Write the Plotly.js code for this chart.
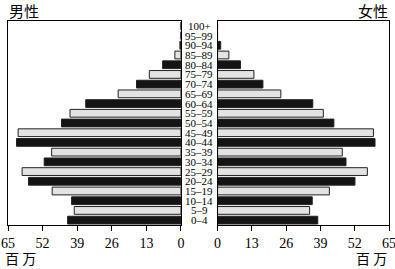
<!DOCTYPE html>
<html><head><meta charset="utf-8">
<script src="https://cdn.plot.ly/plotly-3.0.1.min.js"></script>
<style>html,body{margin:0;padding:0;background:#fff}#chart{width:395px;height:269px}</style>
</head><body><div id="chart"></div>
<script>
const ageGroups = ["0–4","5–9","10–14","15–19","20–24","25–29","30–34","35–39","40–44","45–49","50–54","55–59","60–64","65–69","70–74","75–79","80–84","85–89","90–94","95–99","100+"];
const maleValues = [42.6,40.1,41.1,48.4,57.3,59.7,51.4,48.6,61.8,61.2,44.9,41.7,35.8,23.6,16.7,11.9,6.9,2.3,0.4,0,0];
const femaleValues = [38.0,34.9,35.9,42.4,52.1,56.8,48.7,47.3,59.7,59.1,44.1,40.1,36.1,24.0,17.2,13.8,8.7,4.3,1.2,0,0];
const tickValues = [0,13,26,39,52,65];
const leftLabel = "男性", rightLabel = "女性", unitLabel = "百 万";

const fills = ageGroups.map((_, i) => i % 2 === 0 ? "#141414" : "#e3e3e3");
const serif = "Liberation Serif, Times New Roman, serif";
const cjk = "Noto Sans CJK SC, sans-serif";

const barStyle = {type: "bar", orientation: "h", width: 0.8,
  marker: {color: fills, line: {color: "#222", width: 1}}, hoverinfo: "none"};

const traces = [
  Object.assign({}, barStyle, {x: maleValues, y: ageGroups, xaxis: "x", yaxis: "y"}),
  Object.assign({}, barStyle, {x: femaleValues, y: ageGroups, xaxis: "x2", yaxis: "y2"})
];

const xCommon = {tickvals: tickValues, ticks: "outside", ticklen: 5, tickcolor: "#000",
  showline: true, linecolor: "#000", linewidth: 1, mirror: true, showgrid: false, zeroline: false,
  ticklabeloverflow: "allow",
  tickfont: {family: serif, size: 14, color: "#000"}, fixedrange: true};
const yCommon = {type: "category", categoryorder: "array", categoryarray: ageGroups,
  range: [-0.5, 20.5], showticklabels: false, ticks: "", showline: true, linecolor: "#000",
  linewidth: 1, mirror: true, showgrid: false, zeroline: false, fixedrange: true};

const annotations = ageGroups.map(g => ({text: g, x: 0.502, xref: "paper", y: g, yref: "y",
  xanchor: "center", yanchor: "middle", showarrow: false,
  font: {family: serif, size: 11, color: "#000"}}));
annotations.push(
  {text: leftLabel, x: -0.002, xref: "paper", y: 1.052, yref: "paper", xanchor: "left", yanchor: "middle", showarrow: false, font: {family: cjk, size: 15, color: "#000"}},
  {text: rightLabel, x: 1.003, xref: "paper", y: 1.052, yref: "paper", xanchor: "right", yanchor: "middle", showarrow: false, font: {family: cjk, size: 15, color: "#000"}},
  {text: unitLabel, x: -0.013, xref: "paper", y: -0.162, yref: "paper", xanchor: "left", yanchor: "middle", showarrow: false, font: {family: cjk, size: 14, color: "#000"}},
  {text: unitLabel, x: 1.0, xref: "paper", y: -0.162, yref: "paper", xanchor: "right", yanchor: "middle", showarrow: false, font: {family: cjk, size: 14, color: "#000"}}
);

const layout = {
  width: 395, height: 269, margin: {l: 8, r: 6, t: 21, b: 44, pad: 0},
  paper_bgcolor: "#fff", plot_bgcolor: "#fff", showlegend: false, bargap: 0.2,
  xaxis: Object.assign({}, xCommon, {domain: [0, 0.454], range: [65, 0], anchor: "y"}),
  xaxis2: Object.assign({}, xCommon, {domain: [0.55, 1], range: [0, 65], anchor: "y2"}),
  yaxis: Object.assign({}, yCommon, {anchor: "x"}),
  yaxis2: Object.assign({}, yCommon, {anchor: "x2"}),
  annotations: annotations
};
Plotly.newPlot("chart", traces, layout, {displayModeBar: false, staticPlot: true});
</script></body></html>
